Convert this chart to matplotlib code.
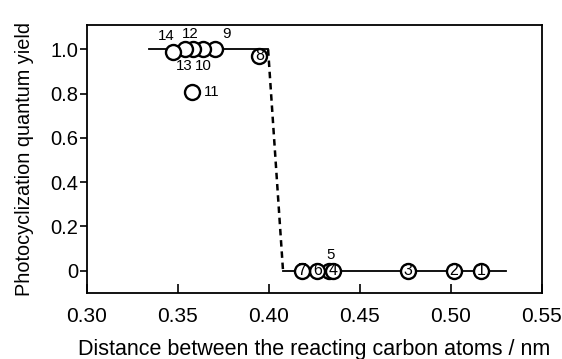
import matplotlib
matplotlib.use("Agg")
import matplotlib.pyplot as plt

plt.rcParams['font.family'] = ['Liberation Sans', 'DejaVu Sans']

# compound number, C...C distance (nm), photocyclization quantum yield
ids = [1, 2, 3, 5, 4, 6, 7, 8, 9, 10, 12, 13, 14, 11]
dist = [0.5165, 0.5016, 0.4765, 0.433, 0.4352, 0.4265, 0.418,
        0.3947, 0.3703, 0.3637, 0.3582, 0.3538, 0.347, 0.3575]
yield_ = [0, 0, 0, 0, 0, 0, 0,
          0.97, 1.0, 1.0, 1.0, 1.0, 0.99, 0.807]

# guide lines (step)
upper_x = [0.334, 0.3995]
upper_y = [1.0, 1.0]
lower_x = [0.4075, 0.530]
lower_y = [0, 0]
step_x = [0.3995, 0.4077]
step_y = [1.0, 0]

xticks = [0.30, 0.35, 0.40, 0.45, 0.50, 0.55]
yticks = [0, 0.2, 0.4, 0.6, 0.8, 1.0]
ytick_labels = ['0', '0.2', '0.4', '0.6', '0.8', '1.0']

# labels drawn outside their circle: offset in points
outside = {14: (-4.8, 11.5), 12: (-2, 10.8), 9: (8.4, 10.8),
           13: (-0.6, -12), 10: (0, -12), 11: (14.4, 0), 5: (1.2, 11.3)}

fig = plt.figure(figsize=(5.62, 3.59), dpi=100)
ax = fig.add_axes([0.1548, 0.1847, 0.8096, 0.7457])

ax.plot(upper_x, upper_y, color='black', lw=1.3, zorder=1)
ax.plot(lower_x, lower_y, color='black', lw=1.3, zorder=1)
ax.plot(step_x, step_y, color='black', lw=1.8, ls=(0, (2.6, 1.9)), zorder=1)

for i, (n, x, y) in enumerate(zip(ids, dist, yield_)):
    ax.plot(x, y, 'o', ms=10.8, mfc='white', mec='black', mew=1.7,
            zorder=2 + i)
    if n in outside:
        ax.annotate(str(n), (x, y), xytext=outside[n],
                    textcoords='offset points', ha='center', va='center',
                    fontsize=10.8, zorder=40)
    else:
        ax.text(x, y, str(n), ha='center', va='center', fontsize=11.5,
                zorder=2 + i)

ax.set_xlim(0.30, 0.55)
ax.set_ylim(-0.1, 1.11)
ax.set_xticks(xticks)
ax.set_xticklabels(['%.2f' % t for t in xticks])
ax.set_yticks(yticks)
ax.set_yticklabels(ytick_labels)
ax.tick_params(axis='x', direction='in', length=6.5, width=1.2,
               labelsize=15, pad=10)
ax.tick_params(axis='y', direction='out', length=5, width=1.2,
               labelsize=14.5, pad=1.5)
for s in ax.spines.values():
    s.set_linewidth(1.3)

ax.set_xlabel('Distance between the reacting carbon atoms / nm',
              fontsize=15.5, labelpad=10)
ax.set_ylabel('Photocyclization quantum yield', fontsize=14.3, labelpad=11.5)

fig.savefig('out.png', dpi=100)
